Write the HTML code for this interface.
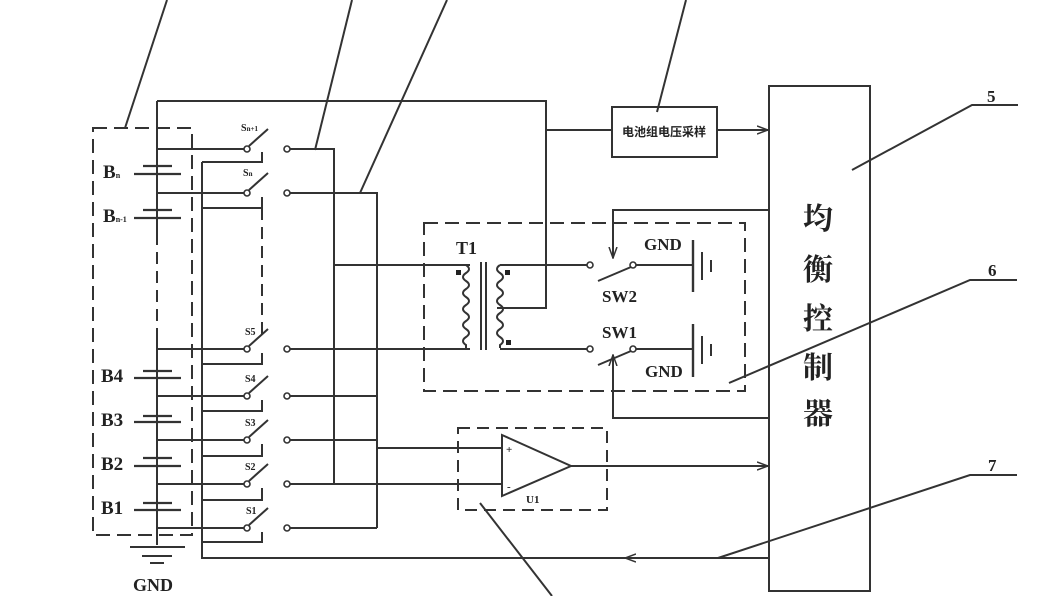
<!DOCTYPE html>
<html><head><meta charset="utf-8"><style>
html,body{margin:0;padding:0;background:#fff;}
svg{display:block;}
text{font-family:"Liberation Serif","Noto Serif CJK SC",serif;font-weight:bold;fill:#222;}
</style></head><body>
<svg width="1062" height="596" viewBox="0 0 1062 596" xmlns="http://www.w3.org/2000/svg">
<defs>
<marker id="ar" markerWidth="12" markerHeight="10" refX="11" refY="5" orient="auto" markerUnits="userSpaceOnUse">
<path d="M0,1 L11,5 L0,9" fill="none" stroke="#333" stroke-width="1.5"/>
</marker>
</defs>
<g stroke="#333" stroke-width="2" fill="none">
<rect x="93" y="128" width="99" height="407" stroke-dasharray="14,7"/>
<line x1="157" y1="101" x2="157" y2="233"/>
<line x1="157" y1="233" x2="157" y2="340" stroke-dasharray="12,7"/>
<line x1="157" y1="340" x2="157" y2="545"/>
<polyline points="157,101 546,101 546,308 497,308"/>
<line x1="546" y1="130" x2="612" y2="130"/>
<rect x="612" y="107" width="105" height="50"/>
<line x1="717" y1="130" x2="768" y2="130" marker-end="url(#ar)"/>
<rect x="769" y="86" width="101" height="505"/>
<g stroke-width="2.2">
<line x1="143" y1="166" x2="172" y2="166"/><line x1="134" y1="174" x2="181" y2="174"/>
<line x1="143" y1="210" x2="172" y2="210"/><line x1="134" y1="218" x2="181" y2="218"/>
<line x1="143" y1="371" x2="172" y2="371"/><line x1="134" y1="378" x2="181" y2="378"/>
<line x1="143" y1="416" x2="172" y2="416"/><line x1="134" y1="422" x2="181" y2="422"/>
<line x1="143" y1="458" x2="172" y2="458"/><line x1="134" y1="466" x2="181" y2="466"/>
<line x1="143" y1="503" x2="172" y2="503"/><line x1="134" y1="510" x2="181" y2="510"/>
</g>
<line x1="130" y1="547" x2="185" y2="547"/>
<line x1="142" y1="556" x2="172" y2="556"/>
<line x1="150" y1="563" x2="164" y2="563"/>
<line x1="157" y1="149" x2="244" y2="149"/>
<line x1="157" y1="193" x2="244" y2="193"/>
<line x1="157" y1="349" x2="244" y2="349"/>
<line x1="157" y1="396" x2="244" y2="396"/>
<line x1="157" y1="440" x2="244" y2="440"/>
<line x1="157" y1="484" x2="244" y2="484"/>
<line x1="157" y1="528" x2="244" y2="528"/>
<polyline points="262,152 262,162 202,162"/>
<polyline points="262,197 262,208 202,208"/>
<polyline points="262,353 262,364 202,364"/>
<polyline points="262,400 262,411 202,411"/>
<polyline points="262,444 262,456 202,456"/>
<polyline points="262,488 262,500 202,500"/>
<polyline points="262,532 262,542 202,542"/>
<line x1="262" y1="208" x2="262" y2="340" stroke-dasharray="12,7"/>
<polyline points="202,162 202,558 768,558"/>
<line x1="718" y1="558" x2="625" y2="558" marker-end="url(#ar)"/>
<line x1="249" y1="146" x2="268" y2="129"/>
<line x1="249" y1="190" x2="268" y2="173"/>
<line x1="249" y1="346" x2="268" y2="329"/>
<line x1="249" y1="393" x2="268" y2="376"/>
<line x1="249" y1="437" x2="268" y2="420"/>
<line x1="249" y1="481" x2="268" y2="464"/>
<line x1="249" y1="525" x2="268" y2="508"/>
<polyline points="290,149 334,149 334,484"/>
<polyline points="290,193 377,193 377,528"/>
<line x1="290" y1="349" x2="470" y2="349"/>
<line x1="290" y1="396" x2="377" y2="396"/>
<line x1="290" y1="440" x2="377" y2="440"/>
<line x1="290" y1="484" x2="502" y2="484"/>
<line x1="290" y1="528" x2="377" y2="528"/>
<line x1="334" y1="265" x2="470" y2="265"/>
<line x1="377" y1="448" x2="502" y2="448"/>
<rect x="424" y="223" width="321" height="168" stroke-dasharray="14,7"/>
<path d="M466,265 q6,4 0,8 q-6,4 0,8 q6,4 0,8 q-6,4 0,8 q6,4 0,8 q-6,4 0,8 q6,4 0,8 q-6,4 0,8 q6,4 0,8 q-6,4 0,8 l0,3 M466,265 l4,0 M466,349 l4,0" />
<line x1="481" y1="262" x2="481" y2="350"/>
<line x1="486" y1="262" x2="486" y2="350"/>
<path d="M500,265 q-6,4 0,8 q6,4 0,8 q-6,4 0,8 q6,4 0,8 q-6,4 0,8 q6,4 0,8 q-6,4 0,8 q6,4 0,8 q-6,4 0,8 q6,4 0,8 l0,3"/>
<line x1="500" y1="265" x2="588" y2="265"/>
<line x1="500" y1="349" x2="588" y2="349"/>
<line x1="598" y1="281" x2="631" y2="267"/>
<line x1="636" y1="265" x2="693" y2="265"/>
<line x1="693" y1="240" x2="693" y2="292" stroke-width="2.4"/>
<line x1="702" y1="252" x2="702" y2="280"/>
<line x1="711" y1="260" x2="711" y2="272"/>
<line x1="598" y1="365" x2="631" y2="351"/>
<line x1="636" y1="349" x2="693" y2="349"/>
<line x1="693" y1="324" x2="693" y2="377" stroke-width="2.4"/>
<line x1="702" y1="336" x2="702" y2="364"/>
<line x1="711" y1="344" x2="711" y2="356"/>
<polyline points="768,210 613,210 613,258" marker-end="url(#ar)"/>
<polyline points="768,418 613,418 613,355" marker-end="url(#ar)"/>
<rect x="458" y="428" width="149" height="82" stroke-dasharray="12,7"/>
<polygon points="502,435 502,496 571,466"/>
<line x1="571" y1="466" x2="768" y2="466" marker-end="url(#ar)"/>
<line x1="125" y1="128" x2="167" y2="0"/>
<line x1="315" y1="150" x2="352" y2="0"/>
<line x1="360" y1="193" x2="447" y2="0"/>
<line x1="657" y1="112" x2="686" y2="0"/>
<polyline points="852,170 972,105 1018,105"/>
<polyline points="729,383 970,280 1017,280"/>
<polyline points="718,558 970,475 1017,475"/>
<line x1="480" y1="503" x2="552" y2="596"/>
</g>
<g stroke="#333" stroke-width="1.6" fill="#fff">
<circle cx="247" cy="149" r="3"/><circle cx="287" cy="149" r="3"/>
<circle cx="247" cy="193" r="3"/><circle cx="287" cy="193" r="3"/>
<circle cx="247" cy="349" r="3"/><circle cx="287" cy="349" r="3"/>
<circle cx="247" cy="396" r="3"/><circle cx="287" cy="396" r="3"/>
<circle cx="247" cy="440" r="3"/><circle cx="287" cy="440" r="3"/>
<circle cx="247" cy="484" r="3"/><circle cx="287" cy="484" r="3"/>
<circle cx="247" cy="528" r="3"/><circle cx="287" cy="528" r="3"/>
<circle cx="590" cy="265" r="3"/><circle cx="633" cy="265" r="3"/>
<circle cx="590" cy="349" r="3"/><circle cx="633" cy="349" r="3"/>
</g>
<g fill="#222">
<rect x="456" y="270" width="5" height="5"/><rect x="505" y="270" width="5" height="5"/><rect x="506" y="340" width="5" height="5"/>
</g>
<text x="103" y="178" font-size="19">B<tspan font-size="8">n</tspan></text>
<text x="103" y="222" font-size="19">B<tspan font-size="8">n-1</tspan></text>
<text x="101" y="382" font-size="19">B4</text>
<text x="101" y="426" font-size="19">B3</text>
<text x="101" y="470" font-size="19">B2</text>
<text x="101" y="514" font-size="19">B1</text>
<text x="133" y="591" font-size="18">GND</text>
<text x="241" y="131" font-size="10">S<tspan font-size="7">n+1</tspan></text>
<text x="243" y="176" font-size="10">S<tspan font-size="7">n</tspan></text>
<text x="245" y="335" font-size="10">S5</text>
<text x="245" y="382" font-size="10">S4</text>
<text x="245" y="426" font-size="10">S3</text>
<text x="245" y="470" font-size="10">S2</text>
<text x="246" y="514" font-size="10">S1</text>
<text x="456" y="254" font-size="18">T1</text>
<text x="644" y="250" font-size="17">GND</text>
<text x="602" y="302" font-size="17">SW2</text>
<text x="602" y="338" font-size="17">SW1</text>
<text x="645" y="377" font-size="17">GND</text>
<text x="506" y="453" font-size="11">+</text>
<text x="507" y="490" font-size="11">-</text>
<text x="526" y="503" font-size="11">U1</text>
<text x="664" y="136" font-size="12" text-anchor="middle" style="font-family:'Noto Sans CJK SC',sans-serif;font-weight:bold">电池组电压采样</text>
<text x="987" y="102" font-size="17">5</text>
<text x="988" y="276" font-size="17">6</text>
<text x="988" y="471" font-size="17">7</text>
<g font-size="30" text-anchor="middle" style="font-family:'Noto Sans CJK SC',sans-serif;font-weight:bold">
<text x="818" y="229">均</text>
<text x="818" y="280">衡</text>
<text x="818" y="329">控</text>
<text x="818" y="378">制</text>
<text x="818" y="424">器</text>
</g>
</svg>
</body></html>
